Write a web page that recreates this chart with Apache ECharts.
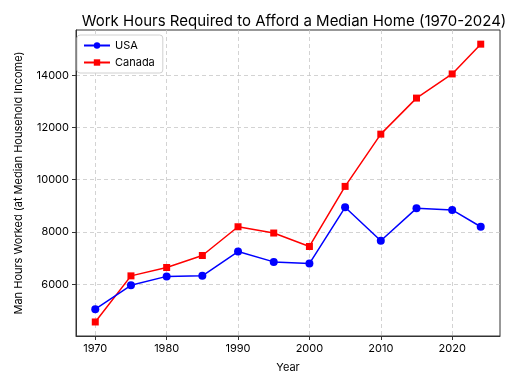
<!DOCTYPE html>
<html><head><meta charset="utf-8">
<script src="https://cdn.jsdelivr.net/npm/echarts@6/dist/echarts.min.js"></script>
<style>html,body{margin:0;padding:0;background:#fff}#c{width:512px;height:384px}</style>
</head><body><div id="c"></div>
<script>
const years = [1970,1975,1980,1985,1990,1995,2000,2005,2010,2015,2020,2024];
const usa = [5045,5960,6300,6320,7250,6855,6790,8945,7665,8905,8845,8200];
const canada = [4555,6320,6640,7100,8200,7960,7445,9745,11745,13125,14050,15190];
const xTicks = [1970,1980,1990,2000,2010,2020];
const yTicks = [6000,8000,10000,12000,14000];
const FONT = 'Inter';
const chart = echarts.init(document.getElementById('c'), null, {renderer:'canvas'});
chart.setOption({
  animation:false,
  textStyle:{fontFamily:FONT},
  title:{text:'Work Hours Required to Afford a Median Home (1970-2024)', left:289, textAlign:'center', top:9,
    textStyle:{fontFamily:FONT, fontSize:15, fontWeight:'normal', color:'#000'}},
  legend:{orient:'vertical', left:77, top:35, padding:[5,8,5,6], itemGap:6, itemWidth:26, itemHeight:8,
    borderColor:'#d0d0d0', borderWidth:1, borderRadius:3, backgroundColor:'#fff',
    textStyle:{fontFamily:FONT, fontSize:11, color:'#000'},
    data:['USA','Canada']},
  grid:{left:76, right:12, top:30, bottom:48, show:true, borderColor:'#333', borderWidth:1, backgroundColor:'transparent'},
  xAxis:{type:'value', min:1967.3, max:2026.7, name:'Year', nameLocation:'middle', nameGap:26,
    nameTextStyle:{fontFamily:FONT, fontSize:11, color:'#000'},
    axisLine:{show:true, lineStyle:{color:'#333'}},
    axisTick:{show:true, length:4, customValues:xTicks, lineStyle:{color:'#333'}},
    axisLabel:{customValues:xTicks, fontFamily:FONT, fontSize:11, color:'#000', margin:7, formatter:v=>String(v)},
    splitLine:{show:true, lineStyle:{color:'#c8c8c8', type:[4,3], width:0.8}}},
  yAxis:{type:'value', min:4018, max:15732, name:'Man Hours Worked (at Median Household Income)', nameLocation:'middle', nameGap:52,
    nameTextStyle:{fontFamily:FONT, fontSize:11, color:'#000'},
    axisLine:{show:true, lineStyle:{color:'#333'}},
    axisTick:{show:true, length:4, customValues:yTicks, lineStyle:{color:'#333'}},
    axisLabel:{customValues:yTicks, fontFamily:FONT, fontSize:11, color:'#000', margin:7, formatter:v=>String(v)},
    splitLine:{show:true, lineStyle:{color:'#c8c8c8', type:[4,3], width:0.8}}},
  series:[
    {name:'USA', type:'line', data:years.map((y,i)=>[y,usa[i]]), symbol:'circle', symbolSize:8,
      itemStyle:{color:'#0000ff'}, lineStyle:{color:'#0000ff', width:1.5}, z:3},
    {name:'Canada', type:'line', data:years.map((y,i)=>[y,canada[i]]), symbol:'rect', symbolSize:7,
      itemStyle:{color:'#ff0000'}, lineStyle:{color:'#ff0000', width:1.5}, z:2}
  ]
});
</script></body></html>
